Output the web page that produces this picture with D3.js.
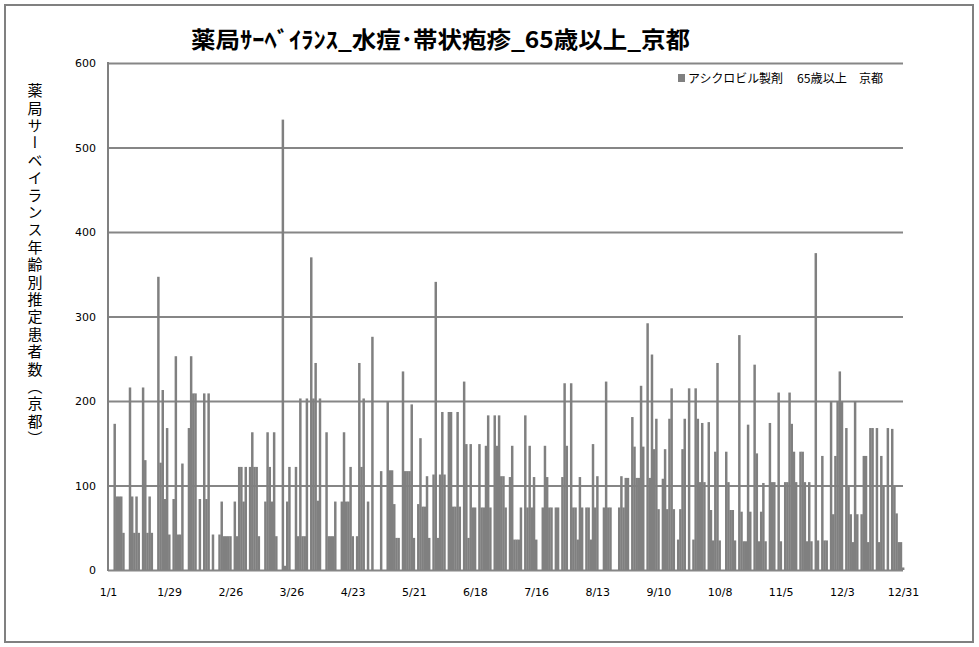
<!DOCTYPE html>
<html><head><meta charset="utf-8">
<script src="https://cdn.jsdelivr.net/npm/d3@7/dist/d3.min.js"></script>
<style>
html,body{margin:0;padding:0;background:#fff;}
svg{display:block;}
</style></head>
<body>
<svg id="chart" width="979" height="647"></svg>
<script>
// ---- data ----
const startDate = "2011-01-01";
const dayCount = 365;
const values = [
0,0,0,173,87,87,87,
44,0,0,216,87,44,87,
44,0,216,130,44,87,44,
0,0,347,127,213,84,168,
42,0,84,253,42,42,126,
0,0,168,253,209,209,0,
84,0,209,84,209,0,42,
0,0,42,81,40,40,40,
40,0,81,40,122,122,81,
122,0,122,163,122,122,40,
0,0,81,163,122,81,163,
40,0,0,533,5,81,122,
0,0,122,40,203,40,40,
203,0,370,203,245,82,203,
0,0,163,40,40,40,81,
0,0,81,163,81,81,122,
40,0,40,245,122,203,0,
81,0,276,0,0,0,117,
0,0,200,118,118,78,38,
38,0,235,117,117,117,196,
38,0,78,156,75,75,111,
38,0,113,341,38,113,187,
113,0,187,187,75,75,187,
75,0,223,149,38,149,74,
74,0,149,74,74,147,183,
74,0,183,147,183,111,111,
74,0,110,147,36,36,36,
74,0,183,74,147,74,110,
36,0,0,74,147,110,74,
74,0,74,74,0,110,221,
147,0,221,74,74,36,110,
74,0,74,74,36,149,74,
111,0,0,74,223,74,74,
0,0,0,74,111,74,109,
109,0,181,146,109,109,218,
146,0,292,109,255,143,179,
72,0,108,143,72,179,215,
72,0,36,72,143,179,0,
215,0,36,215,179,104,174,
104,0,175,71,35,140,245,
35,0,0,140,104,71,71,
35,0,278,69,34,34,172,
69,0,243,138,34,69,103,
34,0,174,104,104,0,210,
34,0,104,104,210,173,140,
104,0,140,140,104,34,104,
34,0,375,35,0,135,35,
35,0,200,66,135,200,235,
200,0,168,100,66,33,200,
66,0,66,135,135,33,168,
168,0,168,33,135,100,0,
168,0,167,99,67,33,33,
3
];
const tickLabels = ["1/1","1/29","2/26","3/26","4/23","5/21","6/18","7/16","8/13","9/10","10/8","11/5","12/3","12/31"];
const yTicks = [0,100,200,300,400,500,600];
const titleText = "薬局ｻｰﾍﾞｲﾗﾝｽ_水痘･帯状疱疹_65歳以上_京都";
const legendParts = ["アシクロビル製剤", "65歳以上", "京都"];
const yTitleText = "薬局サーベイランス年齢別推定患者数（京都）";

(function(){
// ---- build categories ----
const parse = d3.timeParse("%Y-%m-%d");
const fmt = d3.timeFormat("%-m/%-d");
const dates = d3.timeDay.range(parse(startDate), d3.timeDay.offset(parse(startDate), dayCount));
const categories = dates.map(fmt);
const rows = categories.map((c,i)=>({cat:c, v:values[i]}));

// ---- layout ----
const svg = d3.select("#chart");
const pL = 108, pR = 903, pT = 63, pB = 570;
const step = (pR-pL)/(dayCount-1);
const x = d3.scaleBand().domain(categories).range([pL-step/2, pR+step/2]).paddingInner(0).paddingOuter(0);
const y = d3.scaleLinear().domain([0,600]).range([pB, pT]);
const gray = "#808080";

svg.append("rect").attr("x",5).attr("y",5).attr("width",968).attr("height",637)
  .attr("fill","#fff").attr("stroke",gray).attr("stroke-width",2);

// gridlines + y labels
const yAxis = d3.axisLeft(y).tickValues(yTicks).tickSize(-(pR-pL)).tickPadding(12);
const gy = svg.append("g").attr("transform",`translate(${pL},0)`).call(yAxis);
gy.select(".domain").remove();
gy.selectAll(".tick line").attr("stroke","#868686").attr("stroke-width",2);
gy.selectAll(".tick text").attr("font-family","DejaVu Sans, Verdana, sans-serif").attr("font-size",11).attr("fill","#000");

// bars
svg.append("g").selectAll("rect").data(rows).join("rect")
  .attr("x",d=>x(d.cat)).attr("width",x.bandwidth()+0.3)
  .attr("y",d=>y(d.v)).attr("height",d=>pB-y(d.v))
  .attr("fill",gray);

// left axis line
svg.append("line").attr("x1",pL).attr("x2",pL).attr("y1",pT-1).attr("y2",pB+1)
  .attr("stroke",gray).attr("stroke-width",2);

// x axis labels
const xAxis = d3.axisBottom(d3.scalePoint().domain(categories).range([pL,pR]))
  .tickValues(tickLabels).tickSize(0).tickPadding(18);
const gx = svg.append("g").attr("transform",`translate(0,${pB})`).call(xAxis);
gx.select(".domain").remove();
gx.selectAll(".tick text").attr("font-family","DejaVu Sans, Verdana, sans-serif").attr("font-size",11).attr("fill","#000");

// title
svg.append("text").attr("x",191).attr("y",48).attr("textLength",499).attr("lengthAdjust","spacingAndGlyphs")
  .attr("font-family","Noto Sans CJK JP").attr("font-weight","bold").attr("font-size",23).attr("fill","#000")
  .text(titleText);

// legend
svg.append("rect").attr("x",678).attr("y",74).attr("width",7).attr("height",8).attr("fill",gray);
const legX = [688, 797, 859], legW = [95, 50, 24];
const lt = svg.append("text").attr("y",83)
  .attr("font-family","Noto Sans CJK JP").attr("font-size",12).attr("fill","#000");
legendParts.forEach((p,i)=>{
  lt.append("tspan").attr("x",legX[i]).attr("textLength",legW[i]).attr("lengthAdjust","spacingAndGlyphs").text(p);
});

// y title vertical
svg.append("text").attr("x",35).attr("y",83)
  .attr("font-family","Noto Sans CJK JP").attr("font-size",15).attr("fill","#000")
  .style("writing-mode","vertical-rl").style("letter-spacing","2.4px")
  .text(yTitleText);
})();
</script>
</body></html>
